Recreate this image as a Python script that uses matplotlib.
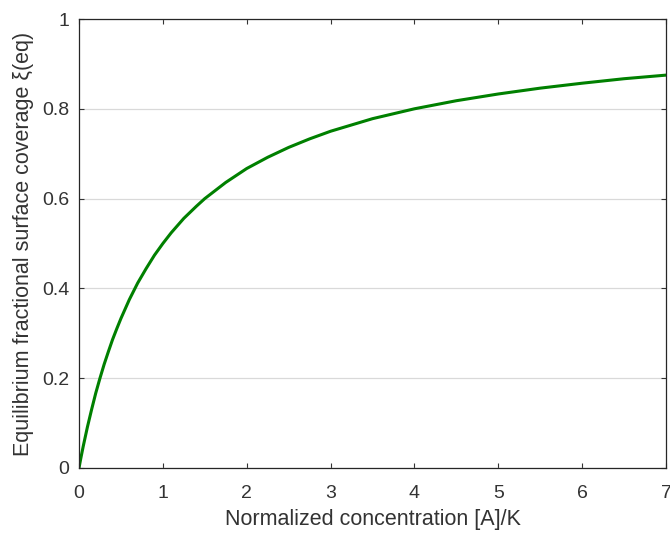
import matplotlib
matplotlib.use("Agg")
import matplotlib.pyplot as plt

# values
conc = [0, 0.02, 0.05, 0.1, 0.15, 0.2, 0.25, 0.3, 0.35, 0.4, 0.45, 0.5, 0.6, 0.7,
        0.8, 0.9, 1.0, 1.1, 1.25, 1.4, 1.5, 1.75, 2.0, 2.25, 2.5, 2.75, 3.0,
        3.5, 4.0, 4.5, 5.0, 5.5, 6.0, 6.5, 7.0]
coverage = [0, 0.020, 0.048, 0.091, 0.130, 0.167, 0.200, 0.231, 0.259, 0.286,
            0.310, 0.333, 0.375, 0.412, 0.444, 0.474, 0.500, 0.524, 0.556,
            0.583, 0.600, 0.636, 0.667, 0.692, 0.714, 0.733, 0.750, 0.778,
            0.800, 0.818, 0.833, 0.846, 0.857, 0.867, 0.875]
xticks = [0, 1, 2, 3, 4, 5, 6, 7]
yticks = [0, 0.2, 0.4, 0.6, 0.8, 1]
ytick_labels = ['0', '0.2', '0.4', '0.6', '0.8', '1']

plt.rcParams['font.family'] = ['Liberation Sans', 'DejaVu Sans']

fig = plt.figure(figsize=(6.7, 5.33), dpi=100)
ax = fig.add_axes([79/670, 1 - 468/533, (666-79)/670, (468-19)/533])

ax.plot(conc, coverage, color='#008000', lw=2.2, solid_capstyle='round')

ax.set_xlim(0, 7)
ax.set_ylim(0, 1)
ax.set_xticks(xticks)
ax.set_yticks(yticks)
ax.set_yticklabels(ytick_labels)
ax.yaxis.grid(True, color='#d9d9d9', lw=0.9)
ax.set_axisbelow(True)
ax.tick_params(direction='in', top=True, right=True, length=3.5, width=0.8,
               labelsize=14, colors='#333333')
ax.tick_params(axis='x', pad=12)
ax.tick_params(axis='y', pad=7)
for s in ax.spines.values():
    s.set_color('#262626')
    s.set_linewidth(0.9)

ax.set_xlabel('Normalized concentration [A]/K', fontsize=15.5, color='#333333', labelpad=5)
ax.set_ylabel('Equilibrium fractional surface coverage ξ(eq)', fontsize=15.5,
              color='#333333', labelpad=6)

fig.savefig('out.png', dpi=100)
